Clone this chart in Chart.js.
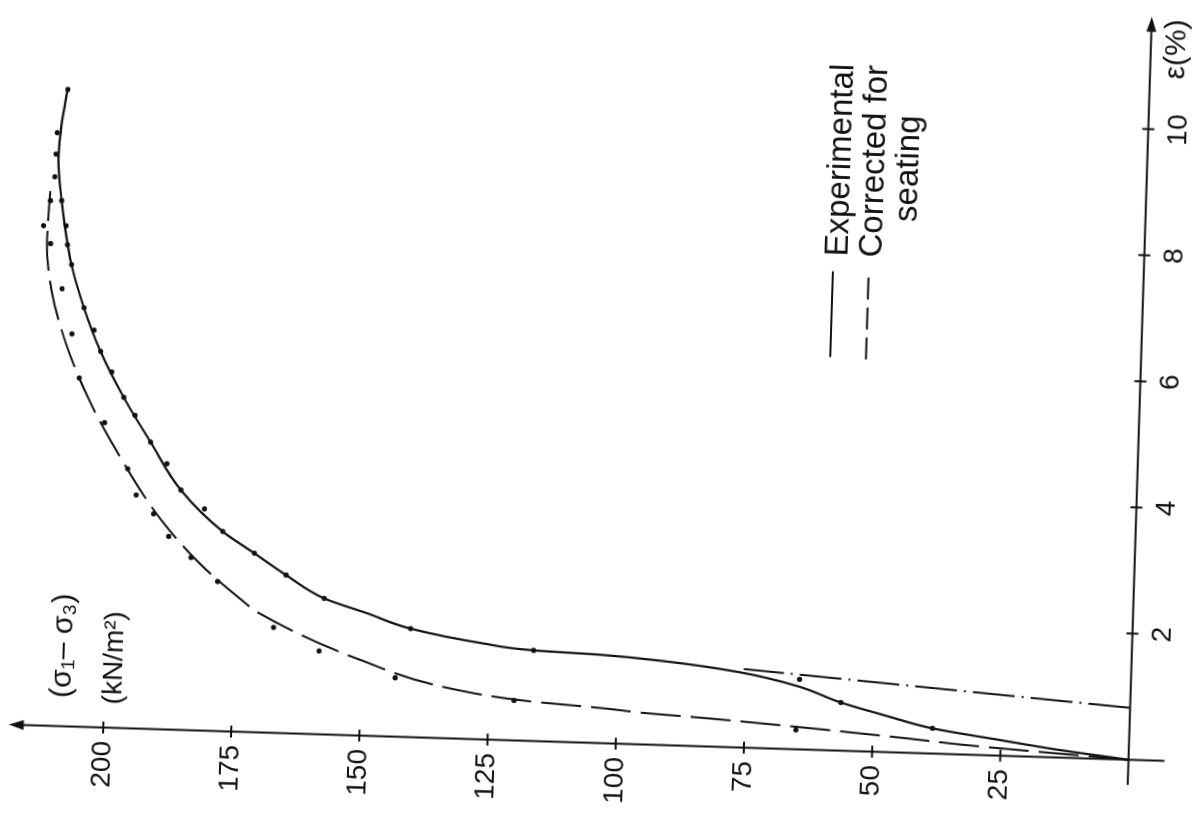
<!DOCTYPE html>
<html>
<head>
<meta charset="utf-8">
<script src="https://cdn.jsdelivr.net/npm/chart.js"></script>
<style>
  html, body { margin: 0; padding: 0; background: #fff; overflow: hidden; width: 1203px; height: 823px; }
  #wrap { position: absolute; width: 900px; height: 1260px; }
</style>
</head>
<body>
<div id="wrap"><canvas id="stressChart" width="900" height="1260"></canvas></div>
<script>
// strain eps (%) against deviator stress (kN/m2)
const epsTicks = [2, 4, 6, 8, 10];
const sigTicks = [25, 50, 75, 100, 125, 150, 175, 200];

// experimental curve (solid) and its measured points
const expLineEps = [0, 0.125, 0.246, 0.40, 0.572, 0.763, 1.005, 1.195, 1.325, 1.40, 1.436, 1.52, 1.72, 1.94, 2.155, 2.507, 2.836, 3.165, 3.80, 4.545, 5.24, 5.957, 6.64, 7.317, 8.326, 9.0, 9.53, 10.09];
const expLineSig = [0, 14, 25, 38.4, 47.3, 56.4, 65.1, 76.5, 90.4, 103.5, 116.5, 126.3, 140.7, 149.2, 157.7, 165.3, 171.6, 177.9, 186.3, 192.5, 198, 202.8, 206.3, 209, 211.3, 212.2, 211.8, 210.8];
const expDotEps = [0.40, 0.763, 1.11, 1.436, 1.72, 2.155, 2.507, 2.836, 3.165, 3.513, 3.80, 4.21, 4.545, 4.96, 5.24, 5.636, 5.957, 6.29, 6.64, 7.317, 7.63, 7.93, 8.326, 8.70, 9.06, 9.40, 10.09];
const expDotSig = [38.4, 56.4, 64.6, 116.6, 140.7, 157.7, 165.3, 171.6, 177.9, 181.6, 186.3, 189.2, 192.5, 195.7, 198, 200.5, 202.8, 204.2, 206.3, 209, 209.9, 210.3, 211.3, 212.8, 212.7, 212.6, 210.8];

// corrected for seating (dashed) and its points
const corLineEps = [0, 0.15, 0.236, 0.447, 0.50, 0.55, 0.634, 0.79, 1.196, 1.877, 2.14, 2.625, 3.32, 4.226, 5.16, 6.046, 6.886, 7.70, 8.47];
const corLineSig = [0, 31.5, 44.5, 82.3, 94.7, 102, 118, 132.5, 150.2, 170, 174.6, 181.9, 190, 197.8, 204.6, 209.5, 212.7, 213.9, 213.6];
const corDotEps = [0.307, 0.634, 0.933, 1.32, 1.67, 2.37, 2.737, 3.06, 3.41, 3.70, 4.11, 4.83, 5.525, 6.22, 6.93, 7.64, 7.92, 8.32];
const corDotSig = [65, 120.1, 143.4, 158.4, 167.4, 178.6, 183.9, 188.4, 191.5, 195, 196.8, 201.6, 206.8, 208.5, 210.7, 213.2, 214.7, 213.5];

// seating correction line (dash-dot)
const seatEps = [0.823, 1.245];
const seatSig = [0, 75.5];

const ink = '#111';
const pts = (xs, ys) => xs.map((x, i) => ({ x: x, y: ys[i] }));

Chart.defaults.font.family = '"Liberation Sans", Arial, sans-serif';
Chart.defaults.color = ink;

// axes with arrows, crossing ticks, strain labels, legend and titles
const sketch = {
  id: 'sketch',
  afterDraw(chart) {
    const ctx = chart.ctx;
    const sx = v => chart.scales.x.getPixelForValue(v);
    const sy = v => chart.scales.y.getPixelForValue(v);
    ctx.save();
    ctx.strokeStyle = ink;
    ctx.fillStyle = ink;
    ctx.lineWidth = 2;
    ctx.setLineDash([]);

    ctx.beginPath();
    ctx.moveTo(sx(-0.4), sy(0));
    ctx.lineTo(sx(11.6), sy(0));
    ctx.moveTo(sx(0), sy(-7));
    ctx.lineTo(sx(0), sy(216));
    ctx.stroke();

    // arrow heads
    let tx = sx(11.78), ty = sy(0);
    ctx.beginPath();
    ctx.moveTo(tx, ty); ctx.lineTo(tx - 15, ty - 5); ctx.lineTo(tx - 15, ty + 5); ctx.closePath();
    ctx.fill();
    tx = sx(0); ty = sy(218.4);
    ctx.beginPath();
    ctx.moveTo(tx, ty); ctx.lineTo(tx - 5, ty + 15); ctx.lineTo(tx + 5, ty + 15); ctx.closePath();
    ctx.fill();

    // ticks crossing the axes
    ctx.beginPath();
    epsTicks.forEach(v => { ctx.moveTo(sx(v), sy(0) - 6); ctx.lineTo(sx(v), sy(0) + 6); });
    sigTicks.forEach(v => { ctx.moveTo(sx(0) - 6, sy(v)); ctx.lineTo(sx(0) + 6, sy(v)); });
    ctx.stroke();

    // strain tick labels
    ctx.textAlign = 'center';
    ctx.textBaseline = 'alphabetic';
    ctx.font = '28px "Liberation Sans", Arial, sans-serif';
    epsTicks.forEach(v => ctx.fillText(String(v), sx(v), sy(0) + 38));

    // axis titles
    ctx.textAlign = 'left';
    ctx.font = '30px "Liberation Sans", Arial, sans-serif';
    ctx.fillText('ε(%)', sx(10.8), sy(0) + 34);
    ctx.fillText('(σ\u2081\u2013 σ\u2083)', sx(0.45), sy(206.6));
    ctx.font = '28px "Liberation Sans", Arial, sans-serif';
    ctx.fillText('(kN/m\u00B2)', sx(0.37), sy(196.6));

    // legend
    ctx.beginPath();
    ctx.moveTo(sx(6.23), sy(60.6)); ctx.lineTo(sx(7.59), sy(60.6));
    ctx.stroke();
    ctx.setLineDash([22, 8]);
    ctx.beginPath();
    ctx.moveTo(sx(6.21), sy(53.6)); ctx.lineTo(sx(7.61), sy(53.6));
    ctx.stroke();
    ctx.setLineDash([]);
    ctx.font = '33px "Liberation Sans", Arial, sans-serif';
    ctx.fillText('Experimental', sx(7.83), sy(57.9));
    ctx.fillText('Corrected for', sx(7.83), sy(51.2));
    ctx.fillText('seating', sx(8.41), sy(44.6));
    ctx.restore();
  }
};

const chart = new Chart(document.getElementById('stressChart'), {
  type: 'scatter',
  data: {
    datasets: [
      { data: pts(expLineEps, expLineSig), showLine: true, borderColor: ink, borderWidth: 2.2,
        pointRadius: 0, cubicInterpolationMode: 'monotone' },
      { data: pts(corLineEps, corLineSig), showLine: true, borderColor: ink, borderWidth: 2,
        borderDash: [40, 10], pointRadius: 0, cubicInterpolationMode: 'monotone' },
      { data: pts(seatEps, seatSig), showLine: true, borderColor: ink, borderWidth: 2,
        borderDash: [42, 7, 2, 7], pointRadius: 0 },
      { data: pts(expDotEps, expDotSig), showLine: false, pointRadius: 2.6, pointBackgroundColor: ink, pointBorderWidth: 0 },
      { data: pts(corDotEps, corDotSig), showLine: false, pointRadius: 2.6, pointBackgroundColor: ink, pointBorderWidth: 0 }
    ]
  },
  options: {
    responsive: false,
    animation: false,
    layout: { padding: { left: 10, right: 66, top: 40, bottom: 39 } },
    plugins: { legend: { display: false }, tooltip: { enabled: false } },
    scales: {
      x: {
        type: 'linear', min: -0.15, max: 11.8,
        grid: { display: false, drawTicks: false }, border: { display: false },
        afterBuildTicks: s => { s.ticks = epsTicks.map(v => ({ value: v })); },
        afterFit: s => { s.height = 50; },
        ticks: { display: false }
      },
      y: {
        type: 'linear', min: -2, max: 218.5,
        grid: { display: false, drawTicks: false }, border: { display: false },
        afterBuildTicks: s => { s.ticks = sigTicks.map(v => ({ value: v })); },
        afterFit: s => { s.width = 70; },
        ticks: { padding: 4, font: { size: 28 } }
      }
    }
  },
  plugins: [sketch]
});

// turn the drawing so the strain axis stands upright, as in the figure
const ox = chart.scales.x.getPixelForValue(0);
const oy = chart.scales.y.getPixelForValue(0);
const wrap = document.getElementById('wrap');
wrap.style.left = (1128 - ox) + 'px';
wrap.style.top = (760 - oy) + 'px';
wrap.style.transformOrigin = ox + 'px ' + oy + 'px';
wrap.style.transform = 'rotate(-88.2deg)';
</script>
</body>
</html>
